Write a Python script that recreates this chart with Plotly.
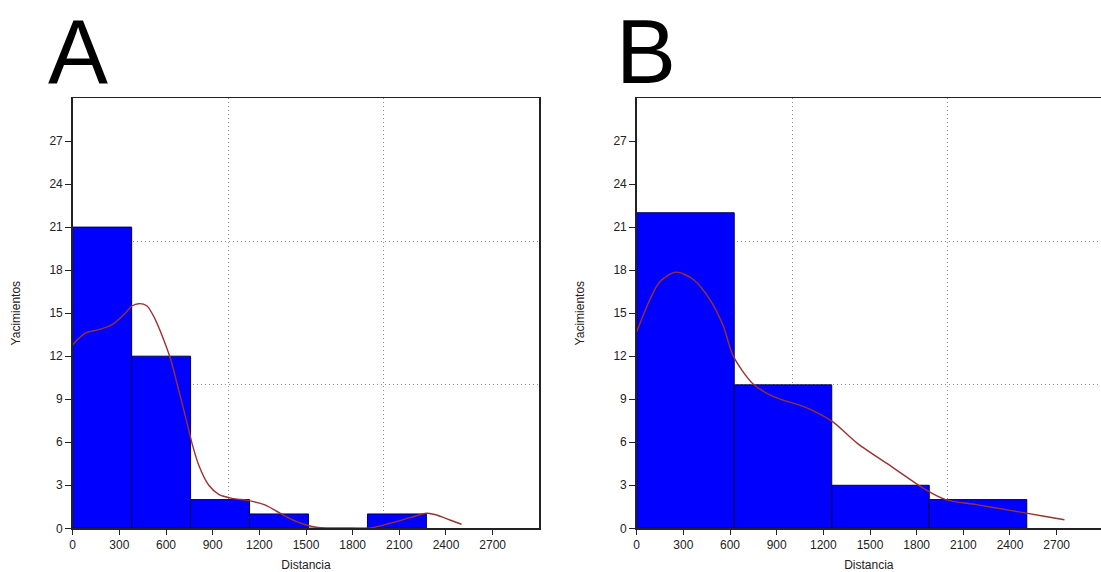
import plotly.graph_objects as go

# ---- data ----
bin_edges_A = [0, 379, 758, 1137, 1516, 1895, 2274]
counts_A = [21, 12, 2, 1, 0, 1]
bin_edges_B = [0, 627, 1254, 1881, 2508]
counts_B = [22, 10, 3, 2]

curve_A_x = [0, 81, 167, 253, 338, 381, 424, 478, 531, 585, 627, 681, 735, 767, 810, 874, 939,
             1024, 1131, 1236, 1333, 1440, 1525, 1611, 1700, 1800, 1900, 2040, 2168, 2276, 2340,
             2425, 2500]
curve_A_y = [12.8, 13.6, 13.85, 14.2, 15.0, 15.5, 15.66, 15.5, 14.55, 13.15, 11.87, 9.66, 7.33,
             5.93, 4.42, 3.02, 2.37, 2.09, 1.93, 1.63, 1.05, 0.46, 0.16, 0.02, 0.0, 0.0, 0.0,
             0.35, 0.74, 1.05, 0.93, 0.58, 0.28]

curve_B_x = [0, 85, 150, 253, 364, 471, 557, 621, 745, 876, 1094, 1257, 1421, 1639, 1857, 1987,
             2183, 2401, 2619, 2750]
curve_B_y = [13.7, 15.95, 17.2, 17.86, 17.35, 15.95, 14.1, 12.0, 10.1, 9.2, 8.4, 7.45, 5.9, 4.3,
             2.7, 2.0, 1.65, 1.25, 0.84, 0.6]

x_ticks = [0, 300, 600, 900, 1200, 1500, 1800, 2100, 2400, 2700]
y_ticks = [0, 3, 6, 9, 12, 15, 18, 21, 24, 27]
x_grid = [1000, 2000]
y_grid = [10, 20]
panel_labels = ["A", "B"]
x_title = "Distancia"
y_title = "Yacimientos"

# ---- figure (body margin removed by post_script, so figure px == page px) ----
W, H = 1101, 572


def px(p):
    return p / W


def py(p):
    return 1 - p / H


fig = go.Figure()


def add_hist(edges, counts, xa, ya):
    centers = [(edges[i] + edges[i + 1]) / 2 for i in range(len(counts))]
    widths = [edges[i + 1] - edges[i] for i in range(len(counts))]
    fig.add_trace(go.Bar(x=centers, y=counts, width=widths, xaxis=xa, yaxis=ya,
                         marker=dict(color="#0000FF", line=dict(color="#000050", width=1)),
                         showlegend=False, hoverinfo="skip"))


add_hist(bin_edges_A, counts_A, "x", "y")
add_hist(bin_edges_B, counts_B, "x2", "y2")

curve_line = dict(color="#9A3232", width=1.4, shape="spline", smoothing=0.8)
fig.add_trace(go.Scatter(x=curve_A_x, y=curve_A_y, mode="lines", xaxis="x", yaxis="y",
                         line=curve_line, showlegend=False, hoverinfo="skip"))
fig.add_trace(go.Scatter(x=curve_B_x, y=curve_B_y, mode="lines", xaxis="x2", yaxis="y2",
                         line=curve_line, showlegend=False, hoverinfo="skip"))

tick_font = dict(family="Liberation Sans, Arial, sans-serif", size=12, color="#222222")
title_font = dict(family="Liberation Sans, Arial, sans-serif", size=12, color="#222222")
grid_style = dict(showgrid=True, gridcolor="#8c8c8c", griddash="1px,3px", gridwidth=1, ticklen=0)


def xaxis_cfg(domain, rng, anchor):
    return dict(domain=domain, range=rng, tickvals=x_ticks, ticks="outside", ticklen=5,
                tickcolor="#222222", tickwidth=1, showline=True, linecolor="#222222",
                linewidth=1.5, mirror=True, showgrid=False, zeroline=False, anchor=anchor,
                tickfont=tick_font, title=dict(text=x_title, font=title_font, standoff=9),
                minor=dict(tickvals=x_grid, **grid_style), fixedrange=True)


def yaxis_cfg(domain, anchor, mirror):
    return dict(domain=domain, range=[0, 30], tickvals=y_ticks, ticks="outside", ticklen=6,
                tickcolor="#222222", tickwidth=1, showline=True, linecolor="#222222",
                linewidth=1.5, mirror=mirror, showgrid=False, zeroline=False, anchor=anchor,
                tickfont=tick_font, title=dict(text=y_title, font=title_font, standoff=26),
                minor=dict(tickvals=y_grid, **grid_style), fixedrange=True)


ydom = [py(528.3), py(98)]
xdomA = [px(72.7), px(539.3)]
xdomB = [px(636.7), 1.0]
px_per_unit = (539.3 - 72.7) / 3000
rngB = [0, (W - 636.7) / px_per_unit]

fig.update_layout(
    width=W, height=H,
    margin=dict(l=0, r=0, t=0, b=0, autoexpand=False),
    paper_bgcolor="white", plot_bgcolor="white",
    bargap=0,
    hovermode=False,
    xaxis=xaxis_cfg(xdomA, [0, 3000], "y"),
    yaxis=yaxis_cfg(ydom, "x", True),
    xaxis2=xaxis_cfg(xdomB, rngB, "y2"),
    yaxis2=yaxis_cfg(ydom, "x2", False),
)

label_size = 90
label_font = dict(family="Liberation Sans, Arial, sans-serif", size=label_size, color="black")
for lab, xc in zip(panel_labels, [77.5, 646]):
    fig.add_annotation(text=lab, x=px(xc), y=py(2), xref="paper", yref="paper",
                       xanchor="center", yanchor="top", showarrow=False, font=label_font,
                       borderpad=0, borderwidth=0)

fig.write_html("out.html", config={"displayModeBar": False, "staticPlot": True},
               post_script="document.body.style.margin='0';document.body.style.overflow='hidden';")
